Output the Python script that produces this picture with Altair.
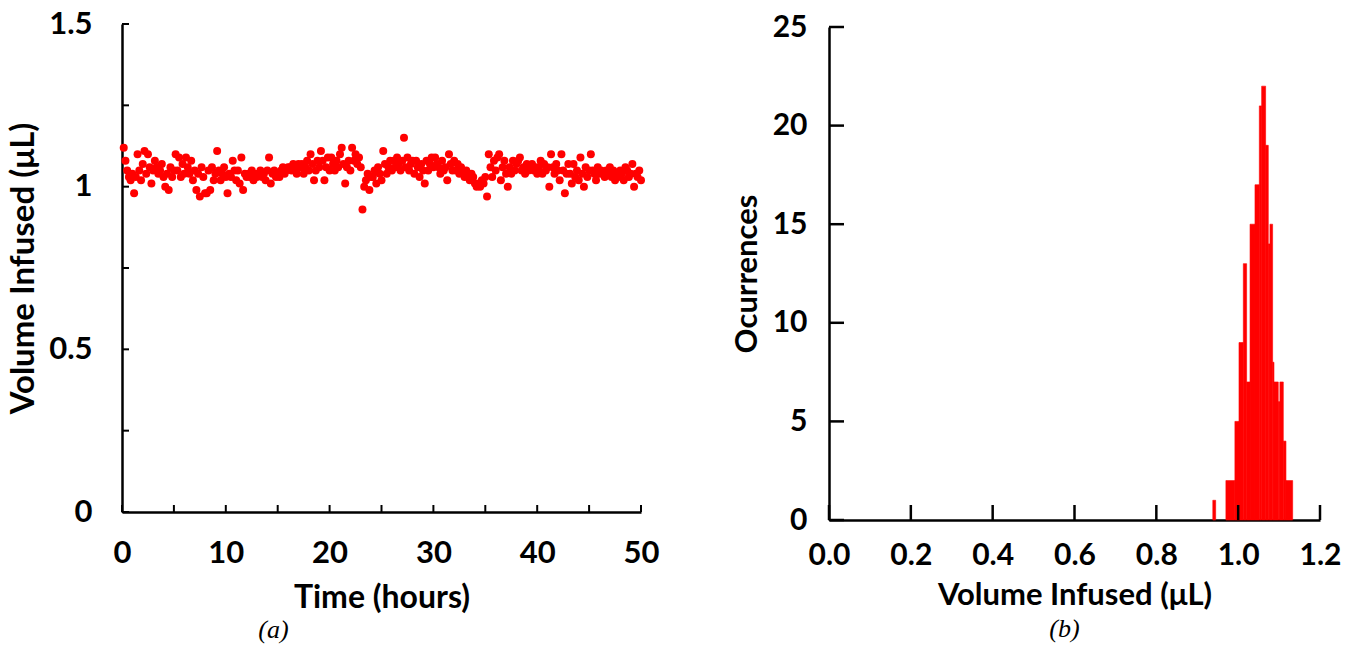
import altair as alt
import pandas as pd

# ---------------- data ----------------
volume = [
    1.12, 1.08, 1.05, 1.03, 1.02, 1.04,
    0.98, 1.03, 1.10, 1.05, 1.02, 1.07,
    1.11, 1.04, 1.10, 1.06, 1.01, 1.05,
    1.08, 1.06, 1.04, 1.05, 1.07, 1.03,
    1.00, 1.04, 0.99, 1.06, 1.03, 1.05,
    1.10, 1.05, 1.09, 1.03, 1.07, 1.04,
    1.09, 1.06, 1.04, 1.08, 1.02, 1.05,
    0.99, 1.04, 0.97, 1.06, 1.03, 0.98,
    0.98, 1.05, 0.99, 1.06, 1.02, 1.04,
    1.11, 1.05, 1.02, 1.04, 1.06, 1.03,
    0.98, 1.04, 1.03, 1.08, 1.05, 1.02,
    1.05, 1.01, 1.09, 0.99, 1.04, 1.03,
    1.04, 1.03, 1.05, 1.02, 1.04, 1.03,
    1.04, 1.05, 1.03, 1.04, 1.02, 1.05,
    1.09, 1.01, 1.04, 1.05, 1.03, 1.04,
    1.03, 1.05, 1.06, 1.04, 1.05, 1.06,
    1.06, 1.05, 1.07, 1.06, 1.04, 1.07,
    1.06, 1.07, 1.04, 1.06, 1.08, 1.05,
    1.10, 1.07, 1.02, 1.05, 1.08, 1.06,
    1.11, 1.08, 1.02, 1.06, 1.09, 1.05,
    1.09, 1.07, 1.05, 1.08, 1.06, 1.10,
    1.12, 1.07, 1.01, 1.06, 1.08, 1.05,
    1.12, 1.08, 1.10, 1.07, 1.09, 1.06,
    0.93, 1.00, 1.02, 1.04, 0.99, 1.03,
    1.03, 1.05, 1.01, 1.06, 1.04, 1.02,
    1.11, 1.07, 1.04, 1.06, 1.08, 1.05,
    1.08, 1.06, 1.09, 1.07, 1.05, 1.08,
    1.15, 1.06, 1.09, 1.05, 1.07, 1.08,
    1.04, 1.08, 1.06, 1.03, 1.07, 1.05,
    1.01, 1.08, 1.05, 1.07, 1.09, 1.06,
    1.09, 1.07, 1.06, 1.04, 1.08, 1.05,
    1.06, 1.02, 1.10, 1.07, 1.05, 1.08,
    1.05, 1.07, 1.04, 1.06, 1.05, 1.03,
    1.05, 1.03, 1.02, 1.04, 1.03, 1.01,
    1.00, 1.01, 1.00, 1.02, 1.01, 1.03,
    0.97, 1.10, 1.06, 1.03, 1.08, 1.05,
    1.09, 1.10, 1.02, 1.06, 1.08, 1.04,
    1.00, 1.06, 1.04, 1.08, 1.05, 1.07,
    1.08, 1.09, 1.05, 1.06, 1.04, 1.07,
    1.05, 1.06, 1.07, 1.05, 1.06, 1.04,
    1.06, 1.08, 1.04, 1.07, 1.05, 1.06,
    1.00, 1.10, 1.06, 1.04, 1.07, 1.05,
    1.02, 1.10, 1.05, 0.98, 1.04, 1.07,
    1.04, 1.01, 1.07, 1.03, 1.05, 1.02,
    1.09, 1.04, 1.00, 1.06, 1.03, 1.05,
    1.10, 1.05, 1.04, 1.02, 1.06, 1.04,
    1.05, 1.04, 1.03, 1.05, 1.04, 1.06,
    1.03, 1.05, 1.02, 1.04, 1.03, 1.05,
    1.04, 1.02, 1.06, 1.05, 1.03, 1.04,
    1.07, 1.00, 1.04, 1.03, 1.05, 1.02,
]
# one reading every 10 minutes
hours = [(i + 1) / 6 for i in range(len(volume))]

bin_left = [0.938, 0.970, 0.992, 1.002, 1.0126, 1.0207, 1.029, 1.0411, 1.0517,
            1.0574, 1.0671, 1.0736, 1.0777, 1.0842, 1.0875, 1.098, 1.102, 1.1103, 1.1168]
bin_right = [0.945, 0.992, 1.002, 1.0126, 1.0207, 1.029, 1.0411, 1.0517, 1.0574,
             1.0671, 1.0736, 1.0777, 1.0842, 1.0875, 1.098, 1.102, 1.1103, 1.1168, 1.1332]
counts = [1, 2, 5, 9, 13, 7, 15, 17, 21, 22, 19, 14, 15, 8, 7, 6, 7, 4, 2]

time_ticks = [0, 5, 10, 15, 20, 25, 30, 35, 40, 45, 50]
time_labels = [0, 10, 20, 30, 40, 50]
vol_ticks = [0, 0.25, 0.5, 0.75, 1.0, 1.25, 1.5]
vol_labels = [0, 0.5, 1, 1.5]
occ_ticks = [0, 5, 10, 15, 20, 25]
hist_ticks = [0.0, 0.2, 0.4, 0.6, 0.8, 1.0, 1.2]

FONT = "Lato"
RED = "#ff0000"


def axis_style(label_size, title_size):
    return dict(grid=False, ticks=False, domainColor="black", domainWidth=2.5,
                labelFlush=False, labelOverlap=False,
                labelFont=FONT, labelFontSize=label_size, labelFontWeight="bold",
                labelColor="black", titleFont=FONT, titleFontSize=title_size,
                titleFontWeight="bold", titleColor="black")


# ---------------- panel (a) ----------------
W1, H1 = 519, 488
xs1 = alt.Scale(domain=[0, 50], nice=False, zero=False)
ys1 = alt.Scale(domain=[0, 1.5], nice=False, zero=False)
xa1 = alt.Axis(values=time_labels, title="Time (hours)", format="d",
               labelPadding=26, titlePadding=14, **axis_style(31, 32))
ya1 = alt.Axis(values=vol_labels, title="Volume Infused (μL)", format=".1~f",
               labelPadding=30, titlePadding=8, **axis_style(31, 33))

scatter_df = pd.DataFrame({"hours": hours, "volume": volume})
points = alt.Chart(scatter_df).mark_circle(size=64, color=RED, opacity=1).encode(
    x=alt.X("hours:Q", scale=xs1, axis=xa1, title="Time (hours)"),
    y=alt.Y("volume:Q", scale=ys1, axis=ya1, title="Volume Infused (μL)"),
)
xt1 = alt.Chart(pd.DataFrame({"hours": time_ticks})).mark_rule(color="black", strokeWidth=2).encode(
    x=alt.X("hours:Q", scale=xs1, axis=xa1, title="Time (hours)"),
    y=alt.value(H1), y2=alt.value(H1 - 7))
yt1 = alt.Chart(pd.DataFrame({"volume": vol_ticks})).mark_rule(color="black", strokeWidth=2).encode(
    y=alt.Y("volume:Q", scale=ys1, axis=ya1, title="Volume Infused (μL)"),
    x=alt.value(0), x2=alt.value(7))

panel_a = alt.layer(points, xt1, yt1).properties(
    width=W1, height=H1,
    title=alt.TitleParams("(a)", orient="bottom", font="Liberation Serif", fontSize=26,
                          fontStyle="italic", fontWeight="normal", color="black",
                          offset=4, dx=-108),
)

# ---------------- panel (b) ----------------
W2, H2 = 491, 493
xs2 = alt.Scale(domain=[0, 1.2], nice=False, zero=False)
ys2 = alt.Scale(domain=[0, 25], nice=False, zero=False)

xa2 = alt.Axis(values=hist_ticks, title="Volume Infused (μL)", format=".1f",
               labelPadding=20, titlePadding=10, **axis_style(30, 31))
ya2 = alt.Axis(values=occ_ticks, title="Ocurrences", format="d",
               labelPadding=22, titlePadding=9, **axis_style(30, 31))

hist_df = pd.DataFrame({"left": bin_left, "right": bin_right, "count": counts})
bars = alt.Chart(hist_df).mark_rect(color=RED, stroke=RED, strokeWidth=0.6).encode(
    x=alt.X("left:Q", scale=xs2, axis=xa2, title="Volume Infused (μL)"),
    x2="right:Q",
    y=alt.Y("count:Q", scale=ys2, axis=ya2, title="Ocurrences"),
    y2=alt.datum(0),
)
xt2 = alt.Chart(pd.DataFrame({"left": hist_ticks})).mark_rule(color="black", strokeWidth=2.5).encode(
    x=alt.X("left:Q", scale=xs2, axis=xa2, title="Volume Infused (μL)"),
    y=alt.value(H2), y2=alt.value(H2 - 15))
yt2 = alt.Chart(pd.DataFrame({"count": occ_ticks})).mark_rule(color="black", strokeWidth=2.5).encode(
    y=alt.Y("count:Q", scale=ys2, axis=ya2, title="Ocurrences"),
    x=alt.value(0), x2=alt.value(15))

panel_b = alt.layer(bars, xt2, yt2).properties(
    width=W2, height=H2,
    title=alt.TitleParams("(b)", orient="bottom", font="Liberation Serif", fontSize=26,
                          fontStyle="italic", fontWeight="normal", color="black",
                          offset=6, dx=-10),
)

# small empty band so that panel (b) sits a few pixels lower than panel (a)
spacer = alt.Chart(pd.DataFrame({"s": [0]})).mark_point(opacity=0).properties(width=W2, height=3)
right_col = alt.vconcat(spacer, panel_b, spacing=0, bounds="flush")

chart = alt.hconcat(panel_a, right_col, spacing=72).properties(
    padding={"left": 7, "top": 8, "right": 5, "bottom": 5},
    background="white",
).configure_view(stroke=None)

chart.save("out.html", embed_options={"renderer": "svg", "actions": False})
